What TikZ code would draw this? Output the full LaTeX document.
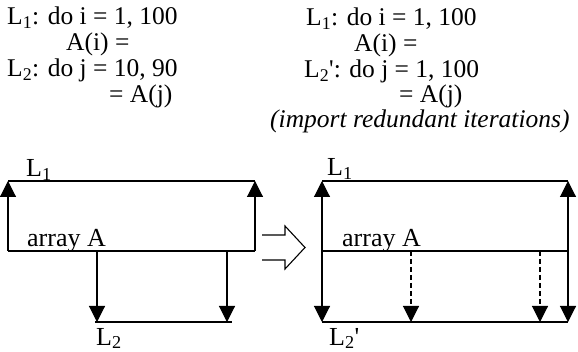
\documentclass[tikz,border=0pt]{standalone}
\usepackage{fontspec}
\setmainfont{Liberation Serif}
\usetikzlibrary{arrows.meta}
\tikzset{
  txt/.style={anchor=base west, inner sep=0pt, font=\fontsize{25.5}{26}\selectfont},
  lbl/.style={anchor=base west, inner sep=0pt, font=\fontsize{26}{28}\selectfont},
  wire/.style={line width=1.1pt},
  tip/.style={wire, -{Triangle[length=16pt,width=16pt]}},
  twotip/.style={wire, {Triangle[length=16pt,width=16pt]}-{Triangle[length=16pt,width=16pt]}},
  dashtip/.style={tip, dash pattern=on 5pt off 3pt},
}
\begin{document}
\begin{tikzpicture}[x=1pt, y=-1pt]
\useasboundingbox (0,0) rectangle (578,352);

% loop code, original version
\node[txt] (a1) at (7,25) {L\textsubscript{1}: do i = 1, 100};
\node[txt] (a2) at (66,51) {A(i) =};
\node[txt] (a3) at (7,77) {L\textsubscript{2}: do j = 10, 90};
\node[txt] (a4) at (109,103) {= A(j)};

% loop code, transformed version
\node[txt] (b1) at (306,26) {L\textsubscript{1}: do i = 1, 100};
\node[txt] (b2) at (354,52) {A(i) =};
\node[txt] (b3) at (304,78) {L\textsubscript{2}\textquotesingle: do j = 1, 100};
\node[txt] (b4) at (399,103) {= A(j)};
\node[txt] (b5) at (270,128) {\itshape (import redundant iterations)};

% left diagram
\coordinate (lTL) at (8,181);   \coordinate (lTR) at (255,181);
\coordinate (lBL) at (8,251);   \coordinate (lBR) at (255,251);
\coordinate (lA1) at (97,251);  \coordinate (lA2) at (227,251);
\coordinate (lD1) at (97,322);  \coordinate (lD2) at (227,322);
\coordinate (lE1) at (95,322);  \coordinate (lE2) at (232,322);
\draw[wire] (lTL) -- (lTR);
\draw[wire] (lBL) -- (lBR);
\draw[tip] (lBL) -- (lTL);
\draw[tip] (lBR) -- (lTR);
\draw[tip] (lA1) -- (lD1);
\draw[tip] (lA2) -- (lD2);
\draw[wire] (lE1) -- (lE2);
\node[lbl] (lL1) at (26,177) {L\textsubscript{1}};
\node[lbl] (lArr) at (27,247) {array A};
\node[lbl] (lL2) at (96,345) {L\textsubscript{2}};

% hollow transformation arrow
\draw[wire, line join=miter] (262,235) -- (285,235) -- (285,226) -- (305,247.5)
  -- (285,269) -- (285,260) -- (262,260);

% right diagram
\coordinate (rTL) at (322,181);  \coordinate (rTR) at (568,181);
\coordinate (rML) at (322,251);  \coordinate (rMR) at (568,251);
\coordinate (rBL) at (322,322);  \coordinate (rBR) at (568,322);
\coordinate (rA1) at (411,251);  \coordinate (rA2) at (540,251);
\coordinate (rD1) at (411,322);  \coordinate (rD2) at (540,322);
\draw[wire] (rTL) -- (rTR);
\draw[wire] (rML) -- (rMR);
\draw[wire] (rBL) -- (rBR);
\draw[twotip] (rTL) -- (rBL);
\draw[twotip] (rTR) -- (rBR);
\draw[dashtip] (rA1) -- (rD1);
\draw[dashtip] (rA2) -- (rD2);
\node[lbl] (rL1) at (327,176) {L\textsubscript{1}};
\node[lbl] (rArr) at (342,247) {array A};
\node[lbl] (rL2) at (329,345) {L\textsubscript{2}\textquotesingle};
\end{tikzpicture}
\end{document}
